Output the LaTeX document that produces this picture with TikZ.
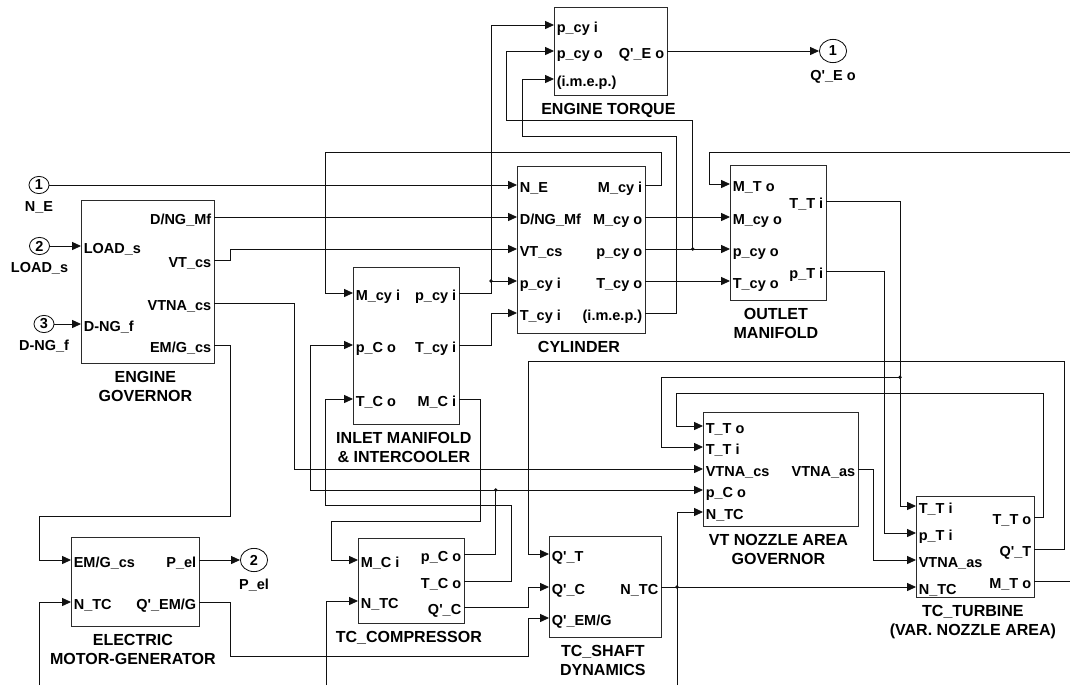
\documentclass[tikz,border=0pt]{standalone}
\usepackage{fontspec}
\setmainfont{Liberation Sans}
\usepackage{xcolor}
\usepackage{tikz}
\usetikzlibrary{positioning,shapes.geometric,arrows.meta}
\definecolor{ink}{HTML}{111111}
\definecolor{boxline}{HTML}{2B2B2B}
\newcommand{\portfont}{\fontsize{10.3}{12}\selectfont\bfseries}
\newcommand{\titlefont}{\fontsize{11.4}{13.7}\selectfont\bfseries}
\newcommand{\qt}{\textquotesingle}

\tikzset{
  blk/.style={draw=boxline, line width=0.6pt, inner sep=0pt, outer sep=0pt},
  inp/.style={anchor=west, font=\portfont, inner xsep=2pt, inner ysep=0pt,
              outer sep=0pt, text height=11pt, text depth=0pt},
  outp/.style={inp, anchor=east},
  ttl/.style={font=\titlefont, align=center, inner sep=0pt, xshift=-1.5pt},
  plbl/.style={font=\portfont, inner sep=0pt, text height=7.4pt, text depth=0pt},
  inport/.style={ellipse, draw=ink, line width=0.6pt, minimum width=0.5cm,
                 minimum height=0.43cm, inner sep=0pt, font=\portfont},
  outport/.style={inport, minimum width=0.68cm, minimum height=0.58cm},
  wire/.style={draw=ink, line width=0.6pt},
  arr/.style={wire, -{Triangle[length=6.3pt,width=5.7pt]}}
}

\begin{document}
\begin{tikzpicture}[x=0.025cm, y=-0.025cm]
\useasboundingbox (0,0) rectangle (1070,685);

% blocks
\node[blk, minimum width=3.325cm, minimum height=4.075cm] (gov) at (147.5,281.5) {};
\node[blk, minimum width=2.825cm, minimum height=2.2cm] (tq) at (610.5,51) {};
\node[blk, minimum width=3.2cm, minimum height=4.175cm] (cyl) at (581,249.5) {};
\node[blk, minimum width=2.65cm, minimum height=3.925cm] (inlet) at (406,345.5) {};
\node[blk, minimum width=2.4cm, minimum height=3.375cm] (out) at (778,232.5) {};
\node[blk, minimum width=3.875cm, minimum height=2.85cm] (vt) at (780.5,469) {};
\node[blk, minimum width=2.95cm, minimum height=2.525cm] (turb) at (975,546.5) {};
\node[blk, minimum width=2.8cm, minimum height=2.525cm] (shaft) at (605,586.5) {};
\node[blk, minimum width=2.65cm, minimum height=2.125cm] (comp) at (411,580.5) {};
\node[blk, minimum width=3.2cm, minimum height=2.225cm] (emg) at (135,581.5) {};

\node[ttl, below=5.7pt of gov] (gov-t) {ENGINE\\GOVERNOR};
\node[ttl, below=5.7pt of tq] (tq-t) {ENGINE TORQUE};
\node[ttl, below=5.7pt of cyl] (cyl-t) {CYLINDER};
\node[ttl, below=5.7pt of inlet] (inlet-t) {INLET MANIFOLD\\\& INTERCOOLER};
\node[ttl, below=5.7pt of out] (out-t) {OUTLET\\MANIFOLD};
\node[ttl, below=5.7pt of vt] (vt-t) {VT NOZZLE AREA\\GOVERNOR};
\node[ttl, below=5.7pt of turb] (turb-t) {TC\_TURBINE\\(VAR. NOZZLE AREA)};
\node[ttl, below=5.7pt of shaft] (shaft-t) {TC\_SHAFT\\DYNAMICS};
\node[ttl, below=5.7pt of comp] (comp-t) {TC\_COMPRESSOR};
\node[ttl, below=5.7pt of emg] (emg-t) {ELECTRIC\\MOTOR-GENERATOR};

% ports
\foreach \y/\t [count=\k] in {246/{LOAD\_s},324/{D-NG\_f}}
  \node[inp] (gov-i\k) at (gov.west |- 0,\y) {\t};
\foreach \y/\t [count=\k] in {217/{D/NG\_Mf},260/{VT\_cs},303/{VTNA\_cs},345/{EM/G\_cs}}
  \node[outp] (gov-o\k) at (gov.east |- 0,\y) {\t};
\foreach \y/\t [count=\k] in {25/{p\_cy i},51/{p\_cy o},79/{(i.m.e.p.)}}
  \node[inp] (tq-i\k) at (tq.west |- 0,\y) {\t};
\node[outp] (tq-o1) at (tq.east |- 0,51) {Q\qt\_E o};
\foreach \y/\t [count=\k] in {185/{N\_E},217/{D/NG\_Mf},249/{VT\_cs},281/{p\_cy i},313/{T\_cy i}}
  \node[inp] (cyl-i\k) at (cyl.west |- 0,\y) {\t};
\foreach \y/\t [count=\k] in {185/{M\_cy i},217/{M\_cy o},249/{p\_cy o},281/{T\_cy o},313/{(i.m.e.p.)}}
  \node[outp] (cyl-o\k) at (cyl.east |- 0,\y) {\t};
\foreach \y/\t [count=\k] in {293/{M\_cy i},345/{p\_C o},399/{T\_C o}}
  \node[inp] (inlet-i\k) at (inlet.west |- 0,\y) {\t};
\foreach \y/\t [count=\k] in {293/{p\_cy i},345/{T\_cy i},399/{M\_C i}}
  \node[outp] (inlet-o\k) at (inlet.east |- 0,\y) {\t};
\foreach \y/\t [count=\k] in {184/{M\_T o},217/{M\_cy o},249/{p\_cy o},281/{T\_cy o}}
  \node[inp] (out-i\k) at (out.west |- 0,\y) {\t};
\foreach \y/\t [count=\k] in {201/{T\_T i},271/{p\_T i}}
  \node[outp] (out-o\k) at (out.east |- 0,\y) {\t};
\foreach \y/\t [count=\k] in {426/{T\_T o},447/{T\_T i},469/{VTNA\_cs},490/{p\_C o},512/{N\_TC}}
  \node[inp] (vt-i\k) at (vt.west |- 0,\y) {\t};
\node[outp] (vt-o1) at (vt.east |- 0,469) {VTNA\_as};
\foreach \y/\t [count=\k] in {506/{T\_T i},533/{p\_T i},560/{VTNA\_as},587/{N\_TC}}
  \node[inp] (turb-i\k) at (turb.west |- 0,\y) {\t};
\foreach \y/\t [count=\k] in {517/{T\_T o},549/{Q\qt\_T},581/{M\_T o}}
  \node[outp] (turb-o\k) at (turb.east |- 0,\y) {\t};
\foreach \y/\t [count=\k] in {554/{Q\qt\_T},587/{Q\qt\_C},618/{Q\qt\_EM/G}}
  \node[inp] (shaft-i\k) at (shaft.west |- 0,\y) {\t};
\node[outp] (shaft-o1) at (shaft.east |- 0,587) {N\_TC};
\foreach \y/\t [count=\k] in {560/{M\_C i},601/{N\_TC}}
  \node[inp] (comp-i\k) at (comp.west |- 0,\y) {\t};
\foreach \y/\t [count=\k] in {554/{p\_C o},581/{T\_C o},607/{Q\qt\_C}}
  \node[outp] (comp-o\k) at (comp.east |- 0,\y) {\t};
\foreach \y/\t [count=\k] in {560/{EM/G\_cs},602/{N\_TC}}
  \node[inp] (emg-i\k) at (emg.west |- 0,\y) {\t};
\foreach \y/\t [count=\k] in {560/{P\_el},602/{Q\qt\_EM/G}}
  \node[outp] (emg-o\k) at (emg.east |- 0,\y) {\t};

% in- and outports
\node[inport] (inNE) at (39,185) {1};
\node[plbl, below=5pt of inNE] (inNE-t) {N\_E};
\node[inport] (inLOAD) at (39.5,246) {2};
\node[plbl, below=5pt of inLOAD] (inLOAD-t) {LOAD\_s};
\node[inport] (inDNG) at (44,324) {3};
\node[plbl, below=5pt of inDNG] (inDNG-t) {D-NG\_f};
\node[outport] (outQE) at (833,51) {1};
\node[plbl, below=5pt of outQE] (outQE-t) {Q\qt\_E o};
\node[outport] (outPel) at (254,560) {2};
\node[plbl, below=5pt of outPel] (outPel-t) {P\_el};

\coordinate (j1) at (692.7,249);
\coordinate (j2) at (491,281);
\coordinate (j3) at (900,377.3);
\coordinate (j4) at (677,587);
\coordinate (j5) at (495.7,490);
\coordinate (MTfeed) at (1070,152.7);
\coordinate (MTout) at (1070,581);
\coordinate (emgbot) at (39.3,685);
\coordinate (compbot) at (326,685);
\coordinate (ntcbot) at (677,685);

% connectors
\draw[arr] (inNE) -- (cyl-i1.west);
\draw[arr] (inLOAD) -- (gov-i1.west);
\draw[arr] (inDNG) -- (gov-i2.west);
\draw[arr] (gov-o1.east) -- (cyl-i2.west);
\draw[arr] (gov-o2.east) -- ++(16,0) |- (cyl-i3.west);
\draw[arr] (gov-o3.east) -| (294,469) -- (vt-i3.west);
\draw[arr] (gov-o4.east) -| (230,516.7) -| (39.3,560) -- (emg-i1.west);
\draw[arr] (cyl-o1.east) -| (661,152.3) -| (325.7,293) -- (inlet-i1.west);
\draw[arr] (cyl-o2.east) -- (out-i2.west);
\draw[arr] (cyl-o3.east) -- (out-i3.west);
\draw[arr] (j1) |- (506.7,120.7) |- (tq-i2.west);
\draw[arr] (cyl-o4.east) -- (out-i4.west);
\draw[arr] (cyl-o5.east) -| (676.7,136) -| (522.7,79) -- (tq-i3.west);
\draw[arr] (inlet-o1.east) -| (j2) -- (cyl-i4.west);
\draw[arr] (j2) |- (tq-i1.west);
\draw[arr] (inlet-o2.east) -| (491,313) -- (cyl-i5.west);
\draw[arr] (inlet-o3.east) -| (480,521.7) -| (331.7,560) -- (comp-i1.west);
\draw[arr] (tq-o1.east) -- (outQE);
\draw[arr] (out-o1.east) -| (900,506) -- (turb-i1.west);
\draw[arr] (j3) -| (661,447) -- (vt-i2.west);
\draw[arr] (out-o2.east) -| (884,533) -- (turb-i2.west);
\draw[arr] (MTfeed) -| (709,184) -- (out-i1.west);
\draw[arr] (turb-o1.east) -| (1043.3,393.3) -| (676.7,426) -- (vt-i1.west);
\draw[arr] (turb-o2.east) -| (1064.3,361.7) -| (528,554) -- (shaft-i1.west);
\draw[wire] (turb-o3.east) -- (MTout);
\draw[arr] (vt-o1.east) -| (873.5,560) -- (turb-i3.west);
\draw[arr] (shaft-o1.east) -- (turb-i4.west);
\draw[arr] (ntcbot) |- (vt-i5.west);
\draw[arr] (comp-o1.east) -| (j5) -- (vt-i4.west);
\draw[arr] (j5) -| (310.7,345) -- (inlet-i2.west);
\draw[arr] (comp-o2.east) -| (511.7,505.7) -| (325.7,399) -- (inlet-i3.west);
\draw[arr] (comp-o3.east) -| (528,587) -- (shaft-i2.west);
\draw[arr] (emg-o1.east) -- (outPel);
\draw[arr] (emg-o2.east) -| (230,656) -| (528,618) -- (shaft-i3.west);
\draw[arr] (emgbot) |- (emg-i2.west);
\draw[arr] (compbot) |- (comp-i2.west);

\foreach \j in {j1,j2,j3,j4,j5}
  \fill[ink] (\j) circle[radius=1.3pt];
\end{tikzpicture}
\end{document}
